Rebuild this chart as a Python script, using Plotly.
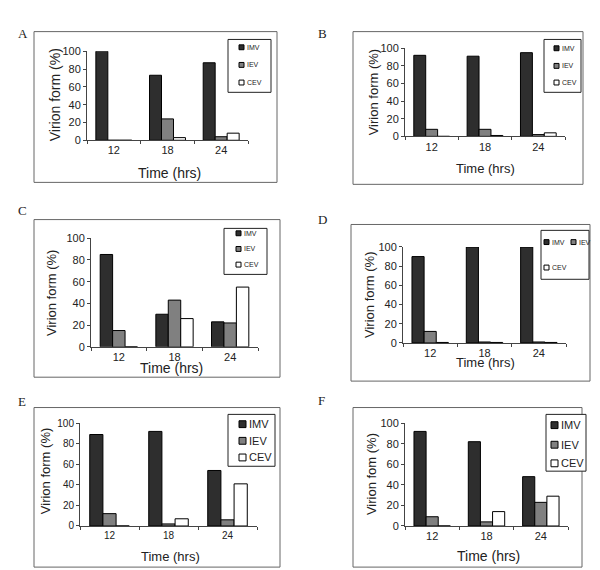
import plotly.graph_objects as go

# ---------------- data ----------------
categories = ["12", "18", "24"]
series_names = ["IMV", "IEV", "CEV"]
panel_letters = ["A", "B", "C", "D", "E", "F"]

A_IMV = [100, 73, 87]
A_IEV = [0, 24, 4]
A_CEV = [0, 3, 8]

B_IMV = [92, 91, 95]
B_IEV = [8, 8, 2]
B_CEV = [0, 1, 4]

C_IMV = [85, 30, 23]
C_IEV = [15, 43, 22]
C_CEV = [0, 26, 55]

D_IMV = [90, 100, 100]
D_IEV = [12, 1, 1]
D_CEV = [0.5, 0.5, 0.5]

E_IMV = [89, 92, 54]
E_IEV = [12, 2, 6]
E_CEV = [0, 7, 41]

F_IMV = [92, 82, 48]
F_IEV = [9, 4, 23]
F_CEV = [0, 14, 29]

y_titles = ["Virion form (%)"] * 5 + ["Virion fom (%)"]
x_title = "Time (hrs)"
y_ticks = [0, 20, 40, 60, 80, 100]

panel_values = [
    (A_IMV, A_IEV, A_CEV),
    (B_IMV, B_IEV, B_CEV),
    (C_IMV, C_IEV, C_CEV),
    (D_IMV, D_IEV, D_CEV),
    (E_IMV, E_IEV, E_CEV),
    (F_IMV, F_IEV, F_CEV),
]

# ---------------- layout (pixel positions) ----------------
W, H = 600, 570
fill_colors = ["#2e2e2e", "#808080", "#ffffff"]

# plot area: x0, x1, y_top(100), y_bottom(0)
plot_px = [
    (79, 240, 38, 129),
    (397, 557, 35, 125),
    (83, 250, 229, 340),
    (395, 558, 238, 336),
    (72, 249, 418, 523),
    (397, 560, 418, 523),
]
outer_px = [
    (26, 269, 18, 172),
    (345, 575, 18, 174),
    (26, 272, 210, 371),
    (343, 582, 215, 375),
    (26, 272, 402, 565),
    (345, 574, 402, 565),
]
legend_px = [
    (220, 263, 26, 80),
    (536, 573, 26, 80),
    (216, 259, 219, 266),
    (533, 581, 221, 271),
    (220, 267, 409, 462),
    (538, 578, 409, 467),
]
# legend items: (square x, center y) for IMV, IEV, CEV
legend_items = [
    [(231, 34), (231, 52), (231, 70)],
    [(546, 35), (546, 53), (546, 70)],
    [(228, 224), (228, 240), (228, 256)],
    [(536, 233), (563, 233), (536, 259)],
    [(231, 419), (231, 436), (231, 453)],
    [(543, 420), (543, 440), (543, 459)],
]
legend_sq = [5, 5, 5, 5, 7, 7]
legend_font = [7, 7, 7, 7, 11, 11]
letter_px = [(8, 20), (308, 20), (8, 201), (308, 210), (8, 396), (308, 395)]
ytitle_px = [(47, 83), (365, 80), (43, 285), (362, 287), (37, 467), (363, 470)]
xtitle_px = [(161, 162), (477, 158), (163, 362), (477, 356), (162, 554), (480, 554)]
tick_font = [11, 11, 11, 11, 10, 11]
ytitle_font = [14, 13, 13, 13, 13, 13]
xtitle_font = [14, 13, 14, 13, 13, 14]


def fx(x):
    return x / W


def fy(y):
    return 1 - y / H


fig = go.Figure()
shapes = []
annotations = []

for i in range(6):
    xa = "x" if i == 0 else f"x{i+1}"
    ya = "y" if i == 0 else f"y{i+1}"
    for s, name in enumerate(series_names):
        fig.add_trace(go.Bar(
            x=categories, y=panel_values[i][s], name=name,
            xaxis=xa, yaxis=ya, showlegend=False,
            marker=dict(color=fill_colors[s], line=dict(color="#000000", width=1)),
        ))
    x0, x1, yt, yb = plot_px[i]
    xkey = "xaxis" if i == 0 else f"xaxis{i+1}"
    ykey = "yaxis" if i == 0 else f"yaxis{i+1}"
    fig.update_layout(**{
        xkey: dict(
            domain=[fx(x0), fx(x1)], anchor=ya, type="category",
            showline=True, linecolor="#444", linewidth=1,
            ticks="outside", tickson="boundaries", ticklen=3, tickcolor="#444",
            showgrid=False, tickfont=dict(family="Liberation Sans, Arial", size=tick_font[i], color="#222"),
            fixedrange=True,
        ),
        ykey: dict(
            domain=[fy(yb), fy(yt)], anchor=xa, range=[0, 100],
            tickvals=y_ticks, showline=True, linecolor="#444", linewidth=1,
            ticks="outside", ticklen=3, tickcolor="#444", showgrid=False, zeroline=False,
            tickfont=dict(family="Liberation Sans, Arial", size=tick_font[i], color="#222"),
            fixedrange=True,
        ),
    })
    # outer chart box
    ox0, ox1, oy0, oy1 = outer_px[i]
    shapes.append(dict(type="rect", xref="paper", yref="paper",
                       x0=fx(ox0), x1=fx(ox1), y0=fy(oy1), y1=fy(oy0),
                       line=dict(color="#666", width=1), fillcolor="rgba(0,0,0,0)", layer="below"))
    # legend box
    lx0, lx1, ly0, ly1 = legend_px[i]
    shapes.append(dict(type="rect", xref="paper", yref="paper",
                       x0=fx(lx0), x1=fx(lx1), y0=fy(ly1), y1=fy(ly0),
                       line=dict(color="#222", width=1), fillcolor="#ffffff"))
    sq = legend_sq[i]
    for s, name in enumerate(series_names):
        sx, sy = legend_items[i][s]
        shapes.append(dict(type="rect", xref="paper", yref="paper",
                           x0=fx(sx), x1=fx(sx + sq), y0=fy(sy + sq / 2), y1=fy(sy - sq / 2),
                           line=dict(color="#000", width=1), fillcolor=fill_colors[s]))
        annotations.append(dict(xref="paper", yref="paper", x=fx(sx + sq + 1), y=fy(sy),
                                xanchor="left", yanchor="middle", showarrow=False, text=name,
                                font=dict(family="Liberation Sans, Arial", size=legend_font[i], color="#222")))
    # panel letter
    lx, ly = letter_px[i]
    annotations.append(dict(xref="paper", yref="paper", x=fx(lx), y=fy(ly),
                            xanchor="left", yanchor="middle", showarrow=False, text=panel_letters[i],
                            font=dict(family="Liberation Serif, Times New Roman", size=13, color="#222")))
    # axis titles
    tx, ty = ytitle_px[i]
    annotations.append(dict(xref="paper", yref="paper", x=fx(tx), y=fy(ty),
                            xanchor="center", yanchor="middle", showarrow=False, textangle=-90,
                            text=y_titles[i],
                            font=dict(family="Liberation Sans, Arial", size=ytitle_font[i], color="#222")))
    tx, ty = xtitle_px[i]
    annotations.append(dict(xref="paper", yref="paper", x=fx(tx), y=fy(ty),
                            xanchor="center", yanchor="middle", showarrow=False, text=x_title,
                            font=dict(family="Liberation Sans, Arial", size=xtitle_font[i], color="#222")))

fig.update_layout(
    width=W, height=H, margin=dict(l=0, r=0, t=0, b=0),
    paper_bgcolor="#ffffff", plot_bgcolor="rgba(0,0,0,0)",
    barmode="group", bargap=0.33, bargroupgap=0,
    shapes=shapes, annotations=annotations, showlegend=False,
)

fig.write_html("out.html")
